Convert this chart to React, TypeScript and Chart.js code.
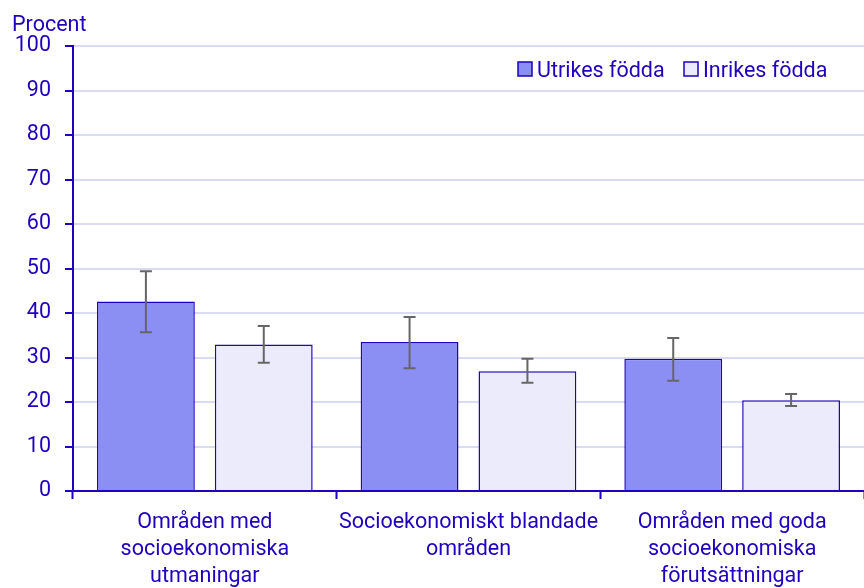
import React, { useEffect, useRef } from "react";
import { Chart, registerables } from "chart.js";

Chart.register(...registerables);

const categories: string[][] = [
  ["Områden med", "socioekonomiska", "utmaningar"],
  ["Socioekonomiskt blandade", "områden"],
  ["Områden med goda", "socioekonomiska", "förutsättningar"],
];
const seriesNames = ["Utrikes födda", "Inrikes födda"];
const utrikes = [42.6, 33.5, 29.7];
const utrikesLow = [35.7, 27.6, 24.8];
const utrikesHigh = [49.4, 39.1, 34.4];
const inrikes = [32.9, 26.9, 20.4];
const inrikesLow = [28.8, 24.3, 19.1];
const inrikesHigh = [37.1, 29.7, 21.8];
const yTitle = "Procent";

const BLUE = "#1e00be";
const FILL1 = "#8b8ff3";
const FILL2 = "#ebebfc";
const GRID = "#dadaf2";
const FONT = "Roboto";
const FS = 21.5;

const errorBars = {
  id: "errorBars",
  afterDatasetsDraw(chart: any) {
    const ctx = chart.ctx;
    const y = chart.scales.y;
    const lows = [utrikesLow, inrikesLow];
    const highs = [utrikesHigh, inrikesHigh];
    ctx.save();
    ctx.strokeStyle = "#666666";
    ctx.lineWidth = 2;
    chart.data.datasets.forEach((_: any, di: number) => {
      const meta = chart.getDatasetMeta(di);
      meta.data.forEach((bar: any, i: number) => {
        const x = bar.x;
        const yl = y.getPixelForValue(lows[di][i]);
        const yh = y.getPixelForValue(highs[di][i]);
        ctx.beginPath();
        ctx.moveTo(x, yl);
        ctx.lineTo(x, yh);
        ctx.moveTo(x - 6, yl);
        ctx.lineTo(x + 6, yl);
        ctx.moveTo(x - 6, yh);
        ctx.lineTo(x + 6, yh);
        ctx.stroke();
      });
    });
    ctx.restore();
  },
};

const extras = {
  id: "extras",
  afterDraw(chart: any) {
    const ctx = chart.ctx;
    ctx.save();
    ctx.fillStyle = BLUE;
    ctx.font = `${FS}px ${FONT}`;
    ctx.textBaseline = "alphabetic";
    ctx.textAlign = "left";
    ctx.fillText(yTitle, 12, 31);
    // legend
    const fills = [FILL1, FILL2];
    const xs = [518, 684];
    seriesNames.forEach((name, i) => {
      ctx.fillStyle = fills[i];
      ctx.fillRect(xs[i], 62, 14, 14);
      ctx.strokeStyle = BLUE;
      ctx.lineWidth = 1.5;
      ctx.strokeRect(xs[i], 62, 14, 14);
      ctx.fillStyle = BLUE;
      ctx.fillText(name, xs[i] + 19, 77);
    });
    ctx.restore();
  },
};

export default function App() {
  const ref = useRef<HTMLCanvasElement>(null);
  useEffect(() => {
    if (!ref.current) return;
    const chart = new Chart(ref.current, {
      type: "bar",
      data: {
        labels: categories,
        datasets: [
          {
            label: seriesNames[0],
            data: utrikes,
            backgroundColor: FILL1,
            borderColor: BLUE,
            borderWidth: 1.5,
          },
          {
            label: seriesNames[1],
            data: inrikes,
            backgroundColor: FILL2,
            borderColor: BLUE,
            borderWidth: 1.5,
          },
        ],
      },
      options: {
        animation: false,
        responsive: false,
        maintainAspectRatio: false,
        datasets: { bar: { categoryPercentage: 0.894, barPercentage: 0.83 } },
        layout: { padding: { top: 46, left: 0, right: 0, bottom: 0 } },
        plugins: {
          legend: { display: false },
          tooltip: { enabled: false },
        },
        scales: {
          x: {
            offset: true,
            grid: {
              offset: true,
              drawOnChartArea: false,
              drawTicks: true,
              tickLength: 8,
              tickColor: BLUE,
              tickWidth: 2,
            },
            border: { color: BLUE, width: 2 },
            ticks: {
              color: BLUE,
              font: { family: FONT, size: FS, lineHeight: 27 / FS },
              padding: 10,
              maxRotation: 0,
              autoSkip: false,
            },
            afterFit(scale: any) {
              scale.height = 97;
            },
          },
          y: {
            min: 0,
            max: 100,
            ticks: {
              stepSize: 10,
              color: BLUE,
              font: { family: FONT, size: FS },
              padding: 14,
            },
            grid: {
              color: GRID,
              lineWidth: 2,
              tickLength: 8,
              tickColor: BLUE,
              tickWidth: 2,
            },
            border: { color: BLUE, width: 2 },
            afterFit(scale: any) {
              scale.width = 73;
            },
          },
        },
      },
      plugins: [errorBars, extras],
    });
    return () => chart.destroy();
  }, []);
  return (
    <div style={{ position: "fixed", left: 0, top: 0, width: 864, height: 588, background: "#fff" }}>
      <canvas ref={ref} width={864} height={588} style={{ width: 864, height: 588 }} />
    </div>
  );
}
